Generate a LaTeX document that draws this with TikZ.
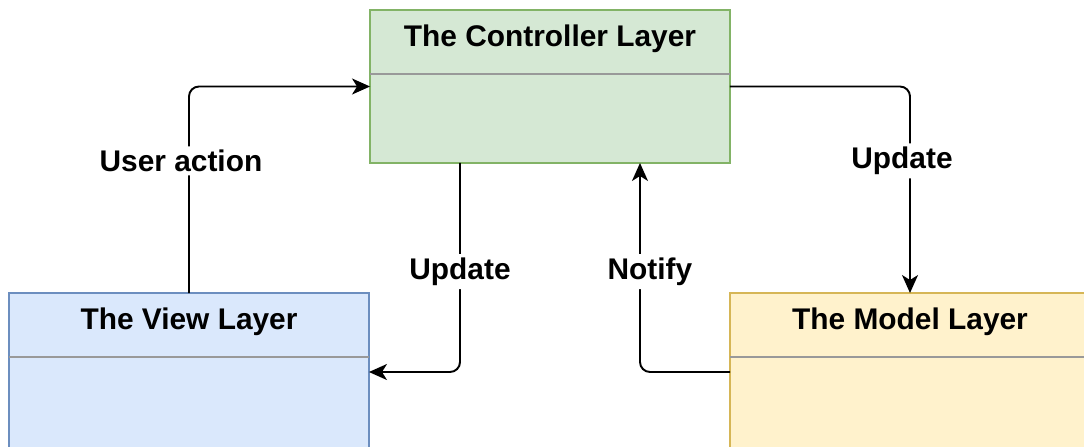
\documentclass[tikz,border=0pt]{standalone}
\usepackage{fontspec}
\setmainfont{Liberation Sans}
\usetikzlibrary{positioning,calc,arrows.meta}
\definecolor{ctrlfill}{HTML}{D5E8D4}
\definecolor{ctrldraw}{HTML}{82B366}
\definecolor{viewfill}{HTML}{DAE8FC}
\definecolor{viewdraw}{HTML}{6C8EBF}
\definecolor{modelfill}{HTML}{FFF2CC}
\definecolor{modeldraw}{HTML}{D6B656}
\begin{document}
\begin{tikzpicture}[x=0.02cm,y=-0.02cm,
  layer/.style={rectangle,draw,line width=0.8pt,inner sep=0pt,outer sep=0pt,
                minimum width=7.2cm},
  header/.style={inner sep=0pt,outer sep=0pt,minimum width=7.2cm,
                 minimum height=1.28cm},
  title/.style={inner sep=0pt,yshift=0.06cm,
                font=\fontsize{17}{20}\bfseries\selectfont},
  divider/.style={draw=black!40,line width=0.9pt},
  flow/.style={draw,line width=1.1pt,rounded corners=0.2cm,
               -{Stealth[length=0.36cm,width=0.32cm,inset=0.1cm]}},
  lbl/.style={fill=white,inner sep=2pt,font=\fontsize{17}{20}\bfseries\selectfont}]
\useasboundingbox (0,0) rectangle (1084,446);
\clip (0,0) rectangle (1084,446);
% the three layers
\node[layer,fill=ctrlfill,draw=ctrldraw,minimum height=3.06cm] (ctrl) at (550,86.5) {};
\node[layer,fill=viewfill,draw=viewdraw,minimum height=3.16cm] (view) at (189,372) {};
\node[layer,fill=modelfill,draw=modeldraw,minimum height=3.16cm] (model) at (910,372) {};
% header strips with their titles
\node[header,below=0pt of ctrl.north] (ctrlhead) {};
\node[header,below=0pt of view.north] (viewhead) {};
\node[header,below=0pt of model.north] (modelhead) {};
\node[title] (ctrltitle) at (ctrlhead) {The Controller Layer};
\node[title] (viewtitle) at (viewhead) {The View Layer};
\node[title] (modeltitle) at (modelhead) {The Model Layer};
\draw[divider] (ctrlhead.south west) -- (ctrlhead.south east);
\draw[divider] (viewhead.south west) -- (viewhead.south east);
\draw[divider] (modelhead.south west) -- (modelhead.south east);
% ports on the bottom of the controller
\coordinate (ctrlL) at ($(ctrl.south west)!0.25!(ctrl.south east)$);
\coordinate (ctrlR) at ($(ctrl.south west)!0.75!(ctrl.south east)$);
% connectors
\draw[flow] (view.north) |- node[lbl,pos=0.32,xshift=-0.16cm] (useract) {User action} (ctrl.west);
\draw[flow] (ctrl.east) -| node[lbl,pos=0.68,xshift=-0.16cm] (updmodel) {Update} (model.north);
\draw[flow] (ctrlL) |- node[lbl,pos=0.26] (updview) {Update} (view.east);
\draw[flow] (model.west) -| node[lbl,pos=0.74,xshift=0.2cm] (notify) {Notify} (ctrlR);
\end{tikzpicture}
\end{document}
